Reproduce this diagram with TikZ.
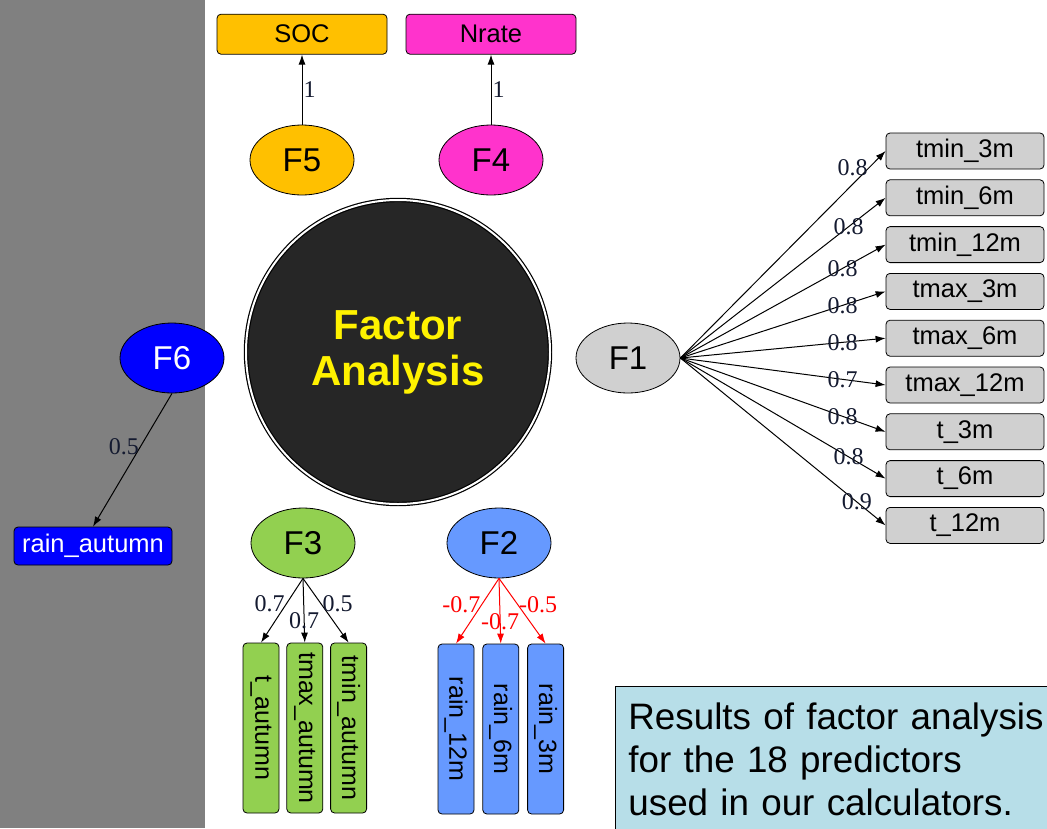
\documentclass[tikz,border=0pt]{standalone}
\usepackage{fontspec}
\setmainfont{Liberation Sans}
\newfontfamily\lblfont{Liberation Serif}
\usetikzlibrary{arrows.meta, positioning, shapes.geometric}

\definecolor{panelgray}{HTML}{808080}
\definecolor{socorange}{HTML}{FFC000}
\definecolor{nratepink}{HTML}{FF33CC}
\definecolor{rainblue}{HTML}{0000FF}
\definecolor{tempgray}{HTML}{D0D0D0}
\definecolor{autgreen}{HTML}{92D050}
\definecolor{monthblue}{HTML}{6699FF}
\definecolor{circlefill}{HTML}{262626}
\definecolor{notecyan}{HTML}{B7DEE8}
\definecolor{lblcol}{HTML}{141A30}

\begin{document}
\begin{tikzpicture}[
  x=1pt, y=-1pt,
  factor/.style = {ellipse, draw, line width=0.8pt, minimum width=104pt, minimum height=70pt, inner sep=0pt, font=\fontsize{33}{33}\selectfont},
  var/.style = {draw, line width=0.8pt, rounded corners=4pt, minimum width=158pt, minimum height=36pt, inner sep=0pt, font=\fontsize{25.5}{25.5}\selectfont},
  vvar/.style = {draw, line width=0.8pt, rounded corners=4pt, minimum width=36pt, minimum height=170pt, inner sep=0pt, font=\fontsize{25}{25}\selectfont},
  arrow/.style = {line width=1pt, -{Latex[length=10pt,width=7pt]}},
  lbl/.style = {font=\lblfont\fontsize{24}{24}\selectfont, text=lblcol, inner sep=1pt},
  node distance=10pt and 7pt
]

  \useasboundingbox (0,0) rectangle (1047,828);
  \fill[white] (0,0) rectangle (1047,828);
  \fill[panelgray] (0,0) rectangle (205,828);

  % Central circle
  \node[circle, minimum size=304pt, fill=circlefill, draw=black, line width=1.2pt,
        double=white, double distance=2pt, text=yellow, align=center,
        font=\bfseries\fontsize{42}{46}\selectfont] (fa) at (398,352) {Factor\\Analysis};

  % Factors
  \node[factor, fill=socorange] (f5) at (302,160) {F5};
  \node[factor, fill=nratepink] (f4) at (491,160) {F4};
  \node[factor, fill=rainblue, text=white] (f6) at (172,358) {F6};
  \node[factor, fill=tempgray] (f1) at (628,358) {F1};
  \node[factor, fill=autgreen] (f3) at (303,543) {F3};
  \node[factor, fill=monthblue] (f2) at (499,543) {F2};

  % F5, F4
  \node[var, fill=socorange, minimum width=170pt, minimum height=40pt, above=70pt of f5] (soc) {SOC};
  \node[var, fill=nratepink, minimum width=170pt, minimum height=40pt, above=70pt of f4] (nrate) {Nrate};
  \draw[arrow] (f5.north) -- node[lbl, right] {1} (soc.south);
  \draw[arrow] (f4.north) -- node[lbl, right] {1} (nrate.south);

  % F6
  \node[var, fill=rainblue, text=white, minimum height=38pt] (rainaut) at (93,546) {rain\_autumn};
  \draw[arrow] (f6.south) -- node[lbl, pos=0.4, left] {0.5} (rainaut.north);

  % F1 -> temperatures
  \node[var, fill=tempgray] (tmin3) at (965,151) {tmin\_3m};
  \node[var, fill=tempgray, below=of tmin3] (tmin6) {tmin\_6m};
  \node[var, fill=tempgray, below=of tmin6] (tmin12) {tmin\_12m};
  \node[var, fill=tempgray, below=of tmin12] (tmax3) {tmax\_3m};
  \node[var, fill=tempgray, below=of tmax3] (tmax6) {tmax\_6m};
  \node[var, fill=tempgray, below=of tmax6] (tmax12) {tmax\_12m};
  \node[var, fill=tempgray, below=of tmax12] (t3) {t\_3m};
  \node[var, fill=tempgray, below=of t3] (t6) {t\_6m};
  \node[var, fill=tempgray, below=of t6] (t12) {t\_12m};

  \draw[arrow] (f1.east) -- node[lbl, pos=0.92, left] {0.8} (tmin3.west);
  \draw[arrow] (f1.east) -- node[lbl, pos=0.82] {0.8} (tmin6.west);
  \draw[arrow] (f1.east) -- node[lbl, pos=0.79] {0.8} (tmin12.west);
  \draw[arrow] (f1.east) -- node[lbl, pos=0.79] {0.8} (tmax3.west);
  \draw[arrow] (f1.east) -- node[lbl, pos=0.79] {0.8} (tmax6.west);
  \draw[arrow] (f1.east) -- node[lbl, pos=0.79] {0.7} (tmax12.west);
  \draw[arrow] (f1.east) -- node[lbl, pos=0.79] {0.8} (t3.west);
  \draw[arrow] (f1.east) -- node[lbl, pos=0.82] {0.8} (t6.west);
  \draw[arrow] (f1.east) -- node[lbl, pos=0.86] {0.9} (t12.west);

  % F3 -> autumn temperatures
  \node[vvar, fill=autgreen] (taut) at (261,728) {\rotatebox{-90}{t\_autumn}};
  \node[vvar, fill=autgreen, right=of taut] (tmaxaut) {\rotatebox{-90}{tmax\_autumn}};
  \node[vvar, fill=autgreen, right=of tmaxaut] (tminaut) {\rotatebox{-90}{tmin\_autumn}};
  \draw[arrow] (f3.south) -- node[lbl, pos=0.4, left] {0.7} (taut.north);
  \draw[arrow] (f3.south) -- node[lbl, pos=0.66] {0.7} (tmaxaut.north);
  \draw[arrow] (f3.south) -- node[lbl, pos=0.4, right] {0.5} (tminaut.north);

  % F2 -> rain
  \node[vvar, fill=monthblue] (rain12) at (456,729) {\rotatebox{-90}{rain\_12m}};
  \node[vvar, fill=monthblue, right=8pt of rain12] (rain6) {\rotatebox{-90}{rain\_6m}};
  \node[vvar, fill=monthblue, right=8pt of rain6] (rain3) {\rotatebox{-90}{rain\_3m}};
  \draw[arrow, red] (f2.south) -- node[lbl, text=red, pos=0.4, left] {-0.7} (rain12.north);
  \draw[arrow, red] (f2.south) -- node[lbl, text=red, pos=0.66] {-0.7} (rain6.north);
  \draw[arrow, red] (f2.south) -- node[lbl, text=red, pos=0.4, right] {-0.5} (rain3.north);

  % Note
  \node[draw, line width=0.8pt, fill=notecyan, anchor=north west, text width=420pt,
        inner xsep=13pt, inner ysep=16pt, align=left,
        font=\fontsize{36.8}{43}\selectfont] (note) at (615,686)
    {Results of factor analysis\\for the 18 predictors\\used in our calculators.};

\end{tikzpicture}
\end{document}
